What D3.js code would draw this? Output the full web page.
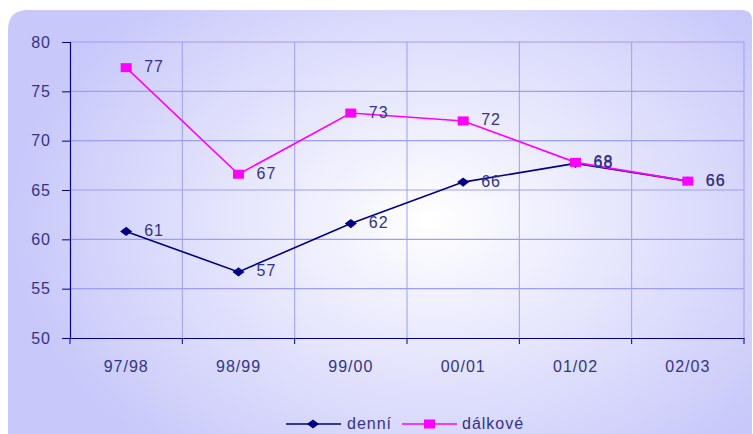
<!DOCTYPE html>
<html>
<head>
<meta charset="utf-8">
<script src="https://d3js.org/d3.v7.min.js"></script>
<style>
  body { margin: 0; background: #ffffff; }
  text { font-family: "Liberation Sans", Arial, sans-serif; }
</style>
</head>
<body>
<svg id="chart" width="753" height="434"></svg>
<script>
// Data
const years = ["97/98", "98/99", "99/00", "00/01", "01/02", "02/03"];
const denni = [60.8, 56.7, 61.6, 65.8, 67.7, 65.9];
const dalkove = [77.4, 66.6, 72.8, 72.0, 67.8, 65.9];
const yTicks = [50, 55, 60, 65, 70, 75, 80];

const svg = d3.select("#chart");
const plotLeft = 70, plotRight = 744, plotTop = 42, plotBottom = 338;
const textColor = "#333388";
const axisColor = "#000080";
const fontSize = "16px";

// background gradient
const defs = svg.append("defs");
const grad = defs.append("radialGradient")
  .attr("id", "bg")
  .attr("gradientUnits", "userSpaceOnUse")
  .attr("cx", 430).attr("cy", 220).attr("r", 420)
  .attr("gradientTransform", "translate(430,220) scale(1,0.72) translate(-430,-220)");
grad.append("stop").attr("offset", "0%").attr("stop-color", "#ffffff");
grad.append("stop").attr("offset", "100%").attr("stop-color", "#c8c8fa");

svg.append("path")
  .attr("d", "M8,432 L8,30 Q8,10 28,10 L742,10 Q752,10 752,20 L752,434 L8,434 Z")
  .attr("fill", "url(#bg)");

// scales
const x = d3.scaleBand().domain(years).range([plotLeft, plotRight]);
const y = d3.scaleLinear().domain([50, 80]).range([plotBottom, plotTop]);
const cx = d => x(d) + x.bandwidth() / 2;

// grid
svg.append("g").selectAll("line")
  .data(yTicks.slice(1)).enter().append("line")
  .attr("x1", plotLeft).attr("x2", plotRight)
  .attr("y1", d => y(d)).attr("y2", d => y(d))
  .attr("stroke", "#9d9dfa").attr("stroke-width", 1.2);
svg.append("g").selectAll("line")
  .data(d3.range(1, 7)).enter().append("line")
  .attr("x1", d => plotLeft + d * x.bandwidth())
  .attr("x2", d => plotLeft + d * x.bandwidth())
  .attr("y1", plotTop).attr("y2", plotBottom)
  .attr("stroke", "#9d9dfa").attr("stroke-width", 1);

// y axis
const yAxis = svg.append("g")
  .attr("transform", "translate(" + plotLeft + ",0)")
  .call(d3.axisLeft(y).tickValues(yTicks).tickSize(8).tickPadding(11));
yAxis.select(".domain").attr("stroke", axisColor).attr("stroke-width", 1.2);
yAxis.selectAll(".tick line").attr("stroke", axisColor);
yAxis.selectAll(".tick text").attr("fill", textColor).style("font-size", fontSize)
  .style("letter-spacing", "1px")
  .style("font-family", "'Liberation Sans', Arial, sans-serif");

// x axis
const xAxis = svg.append("g")
  .attr("transform", "translate(0," + plotBottom + ")")
  .call(d3.axisBottom(x).tickSize(0).tickPadding(23));
xAxis.select(".domain").attr("stroke", axisColor).attr("stroke-width", 1.2);
xAxis.selectAll(".tick text").attr("fill", textColor).style("font-size", fontSize)
  .style("letter-spacing", "1px")
  .style("font-family", "'Liberation Sans', Arial, sans-serif");
svg.append("g").selectAll("line")
  .data(d3.range(7)).enter().append("line")
  .attr("x1", d => plotLeft + d * x.bandwidth()).attr("x2", d => plotLeft + d * x.bandwidth())
  .attr("y1", plotBottom).attr("y2", plotBottom + 6)
  .attr("stroke", axisColor);

const line = d3.line().x((d, i) => cx(years[i])).y(d => y(d));
const diamond = d3.symbol(d3.symbolDiamond, 60);

// denní series
svg.append("path").datum(denni)
  .attr("d", line).attr("fill", "none")
  .attr("stroke", "#000080").attr("stroke-width", 1.6);
svg.append("g").selectAll("path")
  .data(denni).enter().append("path")
  .attr("d", diamond)
  .attr("transform", (d, i) => "translate(" + cx(years[i]) + "," + y(d) + ") scale(1.45,0.64)")
  .attr("fill", "#000080");

// dálkové series
svg.append("path").datum(dalkove)
  .attr("d", line).attr("fill", "none")
  .attr("stroke", "#ff00ff").attr("stroke-width", 1.6);
svg.append("g").selectAll("rect")
  .data(dalkove).enter().append("rect")
  .attr("x", (d, i) => cx(years[i]) - 5.5).attr("y", d => y(d) - 4.5)
  .attr("width", 11).attr("height", 9)
  .attr("fill", "#ff00ff");

// data labels
function labels(values) {
  svg.append("g").selectAll("text")
    .data(values).enter().append("text")
    .attr("x", (d, i) => cx(years[i]) + 18)
    .attr("y", d => y(d) + 4.5)
    .attr("fill", textColor)
    .style("font-size", fontSize)
    .style("letter-spacing", "1px")
    .text(d => Math.round(d));
}
labels(denni);
labels(dalkove);

// legend
const lg = svg.append("g");
lg.append("line").attr("x1", 286).attr("x2", 341).attr("y1", 424).attr("y2", 424)
  .attr("stroke", "#000080").attr("stroke-width", 1.5);
lg.append("path").attr("d", diamond)
  .attr("transform", "translate(313,424) scale(1.45,0.64)").attr("fill", "#000080");
lg.append("text").attr("x", 347).attr("y", 429).attr("fill", textColor)
  .style("font-size", fontSize).style("letter-spacing", "1px").text("denní");
lg.append("line").attr("x1", 402).attr("x2", 457).attr("y1", 424).attr("y2", 424)
  .attr("stroke", "#ff00ff").attr("stroke-width", 1.5);
lg.append("rect").attr("x", 424).attr("y", 419.5).attr("width", 11).attr("height", 9)
  .attr("fill", "#ff00ff");
lg.append("text").attr("x", 462).attr("y", 429).attr("fill", textColor)
  .style("font-size", fontSize).style("letter-spacing", "1px").text("dálkové");
</script>
</body>
</html>
